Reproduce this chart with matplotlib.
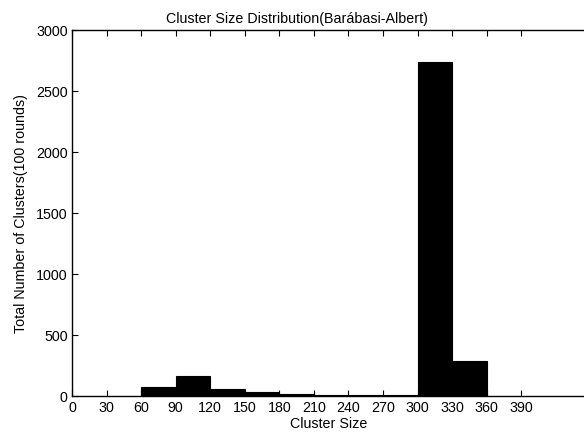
import matplotlib
matplotlib.use("Agg")
import matplotlib.pyplot as plt

plt.rcParams["font.family"] = ["Liberation Sans", "DejaVu Sans"]

# 柱的左边界 (cluster size) 和高度
bin_left = [60, 90, 120, 150, 180, 210, 240, 270, 300, 330]
counts = [74, 160, 61, 33, 19, 10, 7, 5, 2735, 284]
bin_width = 30
x_ticks = list(range(0, 391, 30))
y_ticks = [0, 500, 1000, 1500, 2000, 2500, 3000]

W, H = 584, 439
fig = plt.figure(figsize=(W / 100, H / 100), dpi=100)
left, right, top, bottom = 72, 592, 31, 397
ax = fig.add_axes([left / W, 1 - bottom / H, (right - left) / W, (bottom - top) / H])

ax.bar(bin_left, counts, width=bin_width, align="edge", color="black", edgecolor="black", linewidth=0.8)

ax.set_xlim(0, 451.4)
ax.set_ylim(0, 3000)
ax.set_xticks(x_ticks)
ax.set_yticks(y_ticks)
ax.yaxis.set_ticks_position("left")
ax.xaxis.set_ticks_position("both")
ax.tick_params(direction="in", length=4, width=0.8, labelsize=10.3, pad=3)
ax.spines["right"].set_visible(False)
for s in ax.spines.values():
    s.set_linewidth(1.0)

ax.set_xlabel("Cluster Size", fontsize=10.3, labelpad=2)
ax.xaxis.set_label_coords(0.494, -0.055)
ax.set_ylabel("Total Number of Clusters(100 rounds)", fontsize=10.3, labelpad=6)
ax.set_title("Cluster Size Distribution(Barábasi-Albert)", fontsize=10.3, x=0.433, pad=6)

fig.savefig("out.png", dpi=100)
